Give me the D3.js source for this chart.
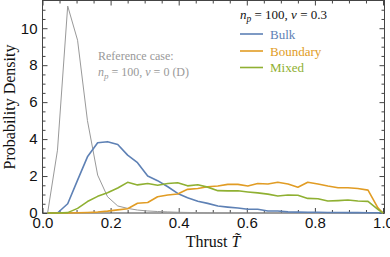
<!DOCTYPE html>
<html>
<head>
<meta charset="utf-8">
<script src="https://cdn.jsdelivr.net/npm/d3@7"></script>
<style>
  body { margin: 0; background: #fff; }
  svg { display: block; font-family: "Liberation Serif", "DejaVu Serif", serif; }
</style>
</head>
<body>
<svg id="chart" width="390" height="257"></svg>
<script>
// bin centres of the thrust histogram
const thrust = [0.015, 0.044, 0.074, 0.103, 0.132, 0.162, 0.191, 0.221, 0.25, 0.279,
                0.309, 0.338, 0.368, 0.397, 0.426, 0.456, 0.485, 0.515, 0.544, 0.574,
                0.603, 0.632, 0.662, 0.691, 0.721, 0.75, 0.779, 0.809, 0.838, 0.868,
                0.897, 0.926, 0.956, 0.985];

// reference case n_p = 100, nu = 0
const reference = [0, 3.4, 11.2, 9.35, 5.0, 2.05, 0.88, 0.38, 0.25, 0.16,
                   0.11, 0.08, 0.06, 0.04, 0.03, 0.02, 0.01, 0, 0, 0,
                   0, 0, 0, 0, 0, 0, 0, 0, 0, 0,
                   0, 0, 0, 0];

const bulk = [0, 0, 0.5, 1.78, 3.04, 3.8, 3.86, 3.71, 3.13, 2.72,
              2.0, 1.75, 1.42, 1.06, 0.83, 0.64, 0.52, 0.38, 0.32, 0.27,
              0.2, 0.2, 0.11, 0.11, 0.06, 0.05, 0.04, 0.04, 0.03, 0.03,
              0.02, 0.02, 0.01, 0.01];

const boundary = [0, 0, 0, 0.01, 0.03, 0.05, 0.1, 0.17, 0.23, 0.53,
                  0.57, 0.88, 0.97, 1.03, 1.28, 1.33, 1.42, 1.46, 1.55, 1.55,
                  1.46, 1.6, 1.57, 1.66, 1.57, 1.39, 1.66, 1.57, 1.46, 1.37,
                  1.37, 1.33, 1.24, 0.28];

const mixed = [0, 0, 0.02, 0.25, 0.62, 0.9, 1.1, 1.35, 1.66, 1.52,
               1.6, 1.5, 1.6, 1.64, 1.47, 1.53, 1.4, 1.21, 1.2, 1.2,
               1.14, 1.09, 1.02, 0.92, 0.97, 0.96, 0.79, 0.77, 0.65, 0.67,
               0.7, 0.65, 0.63, 0.2];

const seriesNames = ["Bulk", "Boundary", "Mixed"];
const seriesColors = ["#5e81b5", "#e19c24", "#8fb032"];

const xMajor = [0, 0.2, 0.4, 0.6, 0.8, 1.0];
const yMajor = [0, 2, 4, 6, 8, 10];

const svg = d3.select("#chart");

const mLeft = 42.5, mRight = 384.5, mTop = 0.5, mBottom = 213;
const x = d3.scaleLinear().domain([0, 1.0]).range([mLeft, 383]);
const y = d3.scaleLinear().domain([0, 11.5]).range([mBottom, mTop]);

const frameColor = "#444";

// minor tick values
const xMinor = d3.range(0, 1.0001, 0.05).filter(v => !xMajor.some(m => Math.abs(m - v) < 1e-6));
const yMinor = d3.range(0, 11.5, 0.5).filter(v => !yMajor.some(m => Math.abs(m - v) < 1e-6));

const styleAxis = (g) => {
  g.select(".domain").remove();
  g.selectAll("line").attr("stroke", frameColor);
  g.selectAll("text").attr("fill", "#111").attr("font-size", 15);
};

// bottom
svg.append("g").attr("transform", `translate(0,${mBottom})`)
   .call(d3.axisBottom(x).tickValues(xMajor).tickSizeInner(-5).tickSizeOuter(0).tickPadding(4).tickFormat(d3.format(".1f")))
   .call(styleAxis);
svg.append("g").attr("transform", `translate(0,${mBottom})`)
   .call(d3.axisBottom(x).tickValues(xMinor).tickSizeInner(-3).tickSizeOuter(0).tickFormat(""))
   .call(styleAxis);
// top
svg.append("g").attr("transform", `translate(0,${mTop})`)
   .call(d3.axisTop(x).tickValues(xMajor).tickSizeInner(-5).tickSizeOuter(0).tickFormat(""))
   .call(styleAxis);
svg.append("g").attr("transform", `translate(0,${mTop})`)
   .call(d3.axisTop(x).tickValues(xMinor).tickSizeInner(-3).tickSizeOuter(0).tickFormat(""))
   .call(styleAxis);
// left
svg.append("g").attr("transform", `translate(${mLeft},0)`)
   .call(d3.axisLeft(y).tickValues(yMajor).tickSizeInner(-5).tickSizeOuter(0).tickPadding(5))
   .call(styleAxis);
svg.append("g").attr("transform", `translate(${mLeft},0)`)
   .call(d3.axisLeft(y).tickValues(yMinor).tickSizeInner(-3).tickSizeOuter(0).tickFormat(""))
   .call(styleAxis);
// right
svg.append("g").attr("transform", `translate(${mRight},0)`)
   .call(d3.axisRight(y).tickValues(yMajor).tickSizeInner(-5).tickSizeOuter(0).tickFormat(""))
   .call(styleAxis);
svg.append("g").attr("transform", `translate(${mRight},0)`)
   .call(d3.axisRight(y).tickValues(yMinor).tickSizeInner(-3).tickSizeOuter(0).tickFormat(""))
   .call(styleAxis);

// frame
svg.append("rect")
   .attr("x", mLeft).attr("y", mTop)
   .attr("width", mRight - mLeft).attr("height", mBottom - mTop)
   .attr("fill", "none").attr("stroke", frameColor).attr("stroke-width", 1);

// lines
const line = d3.line().x(d => x(d[0])).y(d => y(d[1]));
const toPoints = (vals, closeEnd) => {
  const pts = thrust.map((t, i) => [t, vals[i]]);
  if (closeEnd) pts.push([1.0, 0]);
  return pts;
};

const plot = svg.append("g");
plot.append("path")
    .datum(toPoints(reference, false))
    .attr("d", line)
    .attr("fill", "none")
    .attr("stroke", "#999")
    .attr("stroke-width", 1);

[bulk, boundary, mixed].forEach((vals, i) => {
  plot.append("path")
      .datum(toPoints(vals, true))
      .attr("d", line)
      .attr("fill", "none")
      .attr("stroke", seriesColors[i])
      .attr("stroke-width", 1.6)
      .attr("stroke-linejoin", "round");
});

// axis titles
svg.append("text")
   .attr("transform", "translate(15,107) rotate(-90)")
   .attr("text-anchor", "middle")
   .attr("font-size", 16)
   .attr("fill", "#111")
   .text("Probability Density");

const xt = svg.append("text")
   .attr("x", 213).attr("y", 247)
   .attr("text-anchor", "middle")
   .attr("font-size", 16)
   .attr("fill", "#111");
xt.append("tspan").text("Thrust ");
xt.append("tspan").attr("font-style", "italic").text("T\u0303");

// reference annotation
const refNote = svg.append("g").attr("fill", "#999").attr("font-size", 12);
refNote.append("text").attr("x", 98).attr("y", 60).text("Reference case:");
const rn2 = refNote.append("text").attr("x", 98).attr("y", 76);
rn2.append("tspan").attr("font-style", "italic").text("n");
rn2.append("tspan").attr("font-style", "italic").attr("font-size", 9).attr("dy", 3).text("p");
rn2.append("tspan").attr("dy", -3).text(" = 100, ");
rn2.append("tspan").attr("font-style", "italic").text("\u03bd");
rn2.append("tspan").text(" = 0 (D)");

// legend
const legend = svg.append("g");
const lh = legend.append("text").attr("x", 240).attr("y", 19).attr("font-size", 13).attr("fill", "#111");
lh.append("tspan").attr("font-style", "italic").text("n");
lh.append("tspan").attr("font-style", "italic").attr("font-size", 9.5).attr("dy", 3).text("p");
lh.append("tspan").attr("dy", -3).text(" = 100, ");
lh.append("tspan").attr("font-style", "italic").text("\u03bd");
lh.append("tspan").text(" = 0.3");

const legendY = [34, 51, 67.5];
seriesNames.forEach((name, i) => {
  legend.append("line")
        .attr("x1", 240).attr("x2", 263)
        .attr("y1", legendY[i]).attr("y2", legendY[i])
        .attr("stroke", seriesColors[i]).attr("stroke-width", 1.6);
  legend.append("text")
        .attr("x", 270).attr("y", legendY[i] + 4.5)
        .attr("font-size", 13)
        .attr("fill", seriesColors[i])
        .text(name);
});
</script>
</body>
</html>
